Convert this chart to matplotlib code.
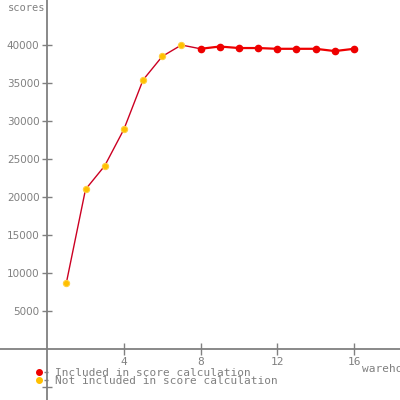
import matplotlib
matplotlib.use("Agg")
import matplotlib.pyplot as plt
from matplotlib.lines import Line2D
from matplotlib.legend_handler import HandlerTuple

# data
warehouses_not = [1, 2, 3, 4, 5, 6, 7]
scores_not = [8700, 21000, 24100, 28900, 35400, 38500, 40000]
warehouses_inc = [8, 9, 10, 11, 12, 13, 14, 15, 16]
scores_inc = [39500, 39800, 39600, 39600, 39500, 39500, 39500, 39200, 39500]
x_ticks = [4, 8, 12, 16]
y_ticks = [5000, 10000, 15000, 20000, 25000, 30000, 35000, 40000]
legend_labels = ["Included in score calculation", "Not included in score calculation"]

gray = "#808080"
mono = "DejaVu Sans Mono"

fig = plt.figure(figsize=(4, 4), dpi=100)
ax = fig.add_axes([0, 0, 1, 1])
ax.set_xlim(-2.46, 18.4)
ax.set_ylim(-6710, 45921)

for s in ["top", "right"]:
    ax.spines[s].set_visible(False)
ax.spines["left"].set_position(("data", 0))
ax.spines["bottom"].set_position(("data", 0))
for s in ["left", "bottom"]:
    ax.spines[s].set_color(gray)
    ax.spines[s].set_linewidth(1.3)

ax.set_xticks(x_ticks)
ax.set_xticklabels([str(t) for t in x_ticks], fontfamily=mono, fontsize=8, color=gray)
ax.set_yticks(y_ticks + [-5000])
ax.set_yticklabels([str(t) for t in y_ticks] + [""], fontsize=7.5, color=gray)
ax.tick_params(axis="x", direction="inout", length=8, width=1, color=gray, pad=1.5)
ax.tick_params(axis="y", direction="inout", length=7, width=1, color=gray, pad=2)

# lines
ax.plot(warehouses_not + [warehouses_inc[0]], scores_not + [scores_inc[0]],
        color="#cc0022", lw=1.0, zorder=2)
ax.plot(warehouses_inc, scores_inc, color="#ee0000", lw=1.6, zorder=2)
ax.plot(warehouses_not, scores_not, ls="none", marker="o", ms=4.5,
        mfc="#ffc000", mec="#ffd040", mew=0.8, zorder=3)
ax.plot(warehouses_inc, scores_inc, ls="none", marker="o", ms=4.5,
        mfc="#ee0000", mec="#ee0000", zorder=3)

ax.text(0.02, 0.992, "scores", transform=ax.transAxes, fontfamily=mono,
        fontsize=7.5, color=gray, ha="left", va="top")
ax.text(16.4, -1950, "warehouses", fontfamily=mono, fontsize=8, color=gray,
        ha="left", va="top", clip_on=False)

dash = Line2D([], [], ls="none", marker="_", ms=3, mec=gray, mew=1)
handles = [(Line2D([], [], ls="none", marker="o", ms=4, mfc="#ee0000", mec="#ee0000"), dash),
           (Line2D([], [], ls="none", marker="o", ms=4, mfc="#ffc000", mec="#ffc000"), dash)]
ax.legend(handles, legend_labels, loc="upper left", bbox_to_anchor=(0.092, 0.081),
          frameon=False, prop={"family": mono, "size": 8}, labelspacing=-0.18,
          handlelength=1.0, handletextpad=0.6, borderpad=0, borderaxespad=0,
          labelcolor=gray, handler_map={tuple: HandlerTuple(ndivide=None, pad=0.2)})

fig.savefig("out.png", dpi=100)
